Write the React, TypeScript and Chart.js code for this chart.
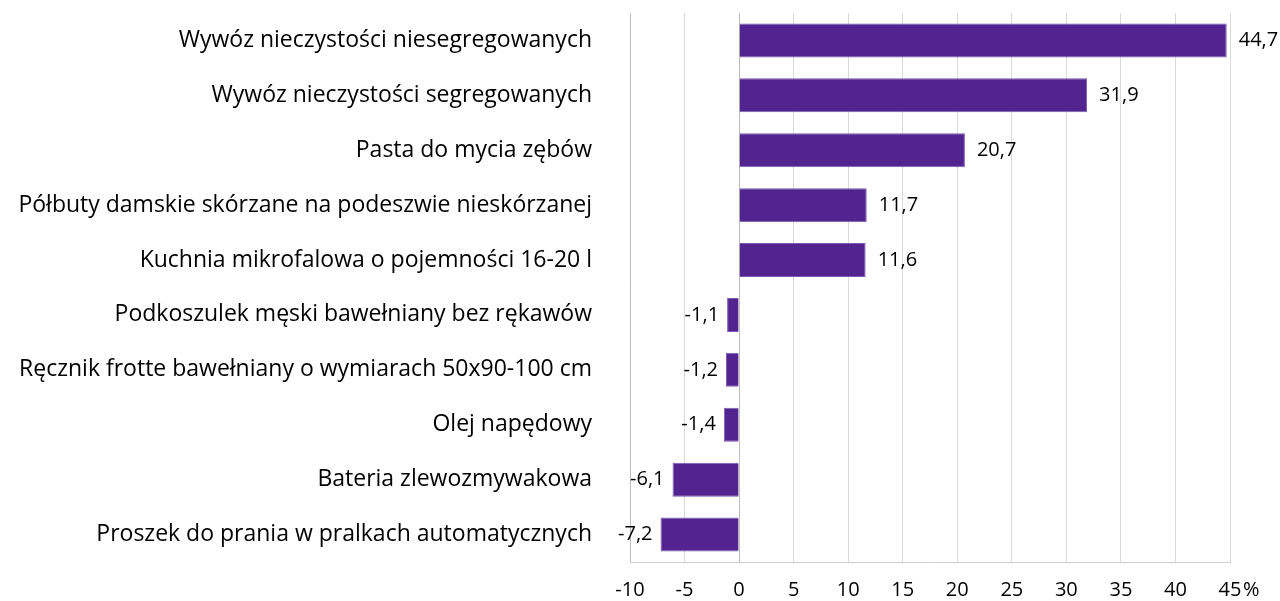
import React, { useEffect, useRef } from "react";
import { Chart, registerables } from "chart.js";

Chart.register(...registerables);

const categories: string[] = [
  "Wywóz nieczystości niesegregowanych",
  "Wywóz nieczystości segregowanych",
  "Pasta do mycia zębów",
  "Półbuty damskie skórzane na podeszwie nieskórzanej",
  "Kuchnia mikrofalowa o pojemności 16-20 l",
  "Podkoszulek męski bawełniany bez rękawów",
  "Ręcznik frotte bawełniany o wymiarach 50x90-100 cm",
  "Olej napędowy",
  "Bateria zlewozmywakowa",
  "Proszek do prania w pralkach automatycznych",
];

const values: number[] = [44.7, 31.9, 20.7, 11.7, 11.6, -1.1, -1.2, -1.4, -6.1, -7.2];

const xMin = -10;
const xMax = 45;
const xStep = 5;
const unitLabel = "%";

const FONT = "Open Sans";
const TICK_PAD = 16;
const fmt = (v: number) => v.toFixed(1).replace(".", ",");

const labelPlugin = {
  id: "valueLabels",
  afterDatasetsDraw(chart: any) {
    const ctx = chart.ctx;
    const meta = chart.getDatasetMeta(0);
    ctx.save();
    ctx.font = `20px "${FONT}"`;
    ctx.fillStyle = "#000";
    ctx.textBaseline = "middle";
    meta.data.forEach((bar: any, i: number) => {
      const v = values[i];
      if (v >= 0) {
        ctx.textAlign = "left";
        ctx.fillText(fmt(v), bar.x + 12, bar.y);
      } else {
        ctx.textAlign = "right";
        ctx.fillText(fmt(v), bar.x - 8, bar.y);
      }
    });
    const xs = chart.scales.x;
    const px = xs.getPixelForValue(xMax);
    ctx.textAlign = "left";
    ctx.textBaseline = "middle";
    ctx.fillText(unitLabel, px + 13, xs.top + TICK_PAD + 12);
    ctx.restore();
  },
};

export default function App() {
  const ref = useRef<HTMLCanvasElement | null>(null);
  useEffect(() => {
    if (!ref.current) return;
    const chart = new Chart(ref.current, {
      type: "bar",
      data: {
        labels: categories,
        datasets: [
          {
            data: values,
            backgroundColor: "#51248f",
            borderColor: "#7a5ab4",
            borderWidth: 1,
            barPercentage: 0.62,
            categoryPercentage: 1,
          },
        ],
      },
      options: {
        indexAxis: "y",
        animation: false,
        responsive: false,
        layout: { padding: { top: 13, right: 50, bottom: 0, left: 0 } },
        plugins: { legend: { display: false }, tooltip: { enabled: false } },
        scales: {
          x: {
            min: xMin,
            max: xMax,
            afterFit: (s: any) => {
              s.paddingLeft = 0;
              s.paddingRight = 0;
              s.height = 39;
            },
            ticks: {
              stepSize: xStep,
              padding: TICK_PAD,
              color: "#000",
              font: { family: FONT, size: 20 },
              maxRotation: 0,
            },
            grid: {
              drawTicks: false,
              color: (c: any) => (c.tick && (c.tick.value === 0 || c.tick.value === xMin) ? "#bdbdbd" : "#d9d9d9"),
            },
            border: { display: true, color: "#d0d0d0" },
          },
          y: {
            afterFit: (s: any) => {
              s.width = 630;
              s.paddingTop = 0;
              s.paddingBottom = 0;
            },
            ticks: {
              padding: 38,
              color: "#000",
              font: { family: FONT, size: 23 },
              autoSkip: false,
            },
            grid: { display: false, drawTicks: false },
            border: { display: false },
          },
        },
      },
      plugins: [labelPlugin],
    });
    return () => chart.destroy();
  }, []);
  return (
    <div style={{ position: "fixed", left: 0, top: 0, width: 1280, height: 601, background: "#fff" }}>
      <canvas ref={ref} width={1280} height={601} style={{ display: "block" }} />
    </div>
  );
}
